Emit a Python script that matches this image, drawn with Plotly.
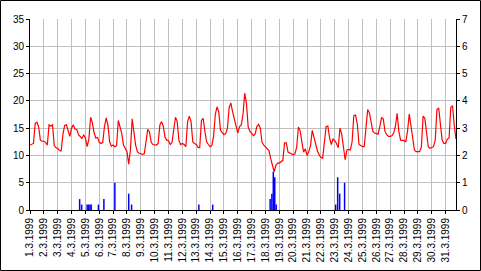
import pandas as pd
import plotly.graph_objects as go

# ---------------- data ----------------
# air temperature (left axis), 3-hourly readings starting 1.3.1999 00:00
temp_c = [
    11.9, 12.0, 12.2, 15.9, 16.1, 15.2, 12.8, 12.6,   # 1.3
    12.6, 12.4, 11.9, 15.6, 15.4, 15.6, 11.8, 11.4,   # 2.3
    11.3, 10.9, 10.8, 13.8, 15.5, 15.6, 14.4, 13.5,   # 3.3
    15.0, 15.6, 14.8, 14.8, 13.8, 13.5, 13.1, 13.8,   # 4.3
    13.2, 11.6, 13.0, 17.0, 16.0, 14.2, 13.2, 13.3,   # 5.3
    12.4, 12.2, 12.4, 15.3, 16.9, 15.5, 12.5, 11.7,   # 6.3
    11.9, 11.6, 11.8, 16.4, 15.3, 14.0, 11.9, 11.3,   # 7.3
    10.7, 8.4, 11.0, 16.7, 13.8, 11.9, 10.7, 10.4,    # 8.3
    10.3, 10.2, 10.3, 12.5, 14.8, 14.3, 12.4, 12.0,   # 9.3
    12.0, 11.9, 12.2, 15.6, 16.2, 15.3, 13.3, 12.8,   # 10.3
    12.7, 12.0, 12.4, 14.4, 17.0, 16.2, 12.7, 12.0,   # 11.3
    12.2, 12.0, 11.6, 16.2, 17.2, 16.2, 12.5, 12.2,   # 12.3
    12.0, 11.5, 11.4, 16.4, 16.8, 14.4, 12.5, 12.0,   # 13.3
    11.6, 11.8, 13.5, 17.5, 18.9, 18.0, 14.6, 14.2,   # 14.3
    13.8, 14.0, 15.0, 18.8, 19.6, 18.0, 16.5, 15.0,   # 15.3
    14.1, 15.3, 15.6, 17.5, 21.4, 19.5, 15.2, 14.4,   # 16.3
    14.1, 13.6, 13.9, 15.3, 15.7, 15.0, 12.4, 11.9,   # 17.3
    11.6, 11.2, 10.9, 9.4, 7.9, 7.0, 8.2, 8.6,        # 18.3
    8.6, 8.8, 9.1, 12.3, 12.3, 10.6, 10.4, 10.2,      # 19.3
    10.1, 10.3, 11.5, 15.2, 14.5, 12.5, 10.6, 11.2,   # 20.3
    10.0, 10.7, 11.8, 14.6, 13.3, 11.6, 10.8, 10.1,   # 21.3
    9.6, 9.5, 12.5, 15.3, 15.4, 13.2, 12.0, 13.0,     # 22.3
    12.7, 12.2, 11.4, 15.0, 13.9, 11.8, 9.2, 11.0,    # 23.3
    11.1, 11.0, 12.5, 17.3, 17.4, 15.8, 12.0, 11.8,   # 24.3
    11.6, 11.6, 14.4, 18.4, 17.8, 15.9, 14.4, 14.1,   # 25.3
    14.0, 13.9, 15.3, 16.9, 16.7, 14.4, 13.8, 13.5,   # 26.3
    13.5, 13.6, 14.1, 15.3, 17.7, 14.4, 12.8, 12.8,   # 27.3
    12.7, 12.5, 14.4, 17.6, 15.5, 12.6, 11.0, 10.7,   # 28.3
    10.7, 10.7, 11.5, 17.2, 16.8, 14.1, 11.6, 11.3,   # 29.3
    11.4, 11.6, 12.8, 18.4, 18.7, 15.9, 12.8, 12.2,   # 30.3
    12.2, 13.0, 13.2, 18.8, 19.1, 15.5, 13.0,         # 31.3
]

# precipitation (right axis)
precip_times = [
    "1999-03-04 14:00", "1999-03-04 17:30",
    "1999-03-05 03:00", "1999-03-05 05:30", "1999-03-05 08:00", "1999-03-05 10:00",
    "1999-03-05 22:30", "1999-03-06 08:00", "1999-03-07 03:00",
    "1999-03-08 03:00", "1999-03-08 08:00",
    "1999-03-13 04:30", "1999-03-14 04:30",
    "1999-03-18 08:00", "1999-03-18 11:00", "1999-03-18 13:30", "1999-03-18 16:00", "1999-03-18 18:30",
    "1999-03-23 01:30", "1999-03-23 05:00", "1999-03-23 08:30", "1999-03-23 17:00",
]
precip_mm = [
    0.4, 0.2,
    0.2, 0.2, 0.2, 0.2,
    0.2, 0.4, 1.0,
    0.6, 0.2,
    0.2, 0.2,
    0.4, 0.6, 1.4, 1.2, 0.2,
    0.2, 1.2, 0.6, 1.0,
]

day_ticks = [f"1999-03-{d:02d}" for d in range(1, 32)]
day_labels = [
    "1.3.1999", "2.3.1999", "3.3.1999", "4.3.1999", "5.3.1999", "6.3.1999",
    "7.3.1999", "8.3.1999", "9.3.1999", "10.3.1999", "11.3.1999", "12.3.1999",
    "13.3.1999", "14.3.1999", "15.3.1999", "16.3.1999", "17.3.1999", "18.3.1999",
    "19.3.1999", "20.3.1999", "21.3.1999", "22.3.1999", "23.3.1999", "24.3.1999",
    "25.3.1999", "26.3.1999", "27.3.1999", "28.3.1999", "29.3.1999", "30.3.1999",
    "31.3.1999",
]
left_ticks = [0, 5, 10, 15, 20, 25, 30, 35]
right_ticks = [0, 1, 2, 3, 4, 5, 6, 7]

# ---------------- figure ----------------
temp_times = pd.date_range("1999-03-01 00:00", periods=len(temp_c), freq="3h")

W, H = 481, 271
ML, MR, MT, MB = 30, 25, 19, 61
PW, PH = W - ML - MR, H - MT - MB

FONT = dict(family="Arial, 'Liberation Sans', sans-serif", size=10, color="black")

fig = go.Figure()
fig.add_trace(go.Bar(
    x=pd.to_datetime(precip_times), y=precip_mm, yaxis="y",
    width=2.6 * 3600 * 1000, marker=dict(color="#0000FF", line=dict(width=0)),
    hoverinfo="skip", showlegend=False,
))
fig.add_trace(go.Scatter(
    x=temp_times, y=temp_c, yaxis="y2", mode="lines",
    line=dict(color="#FF0000", width=1.2), hoverinfo="skip", showlegend=False,
))

fig.update_layout(
    template="none",
    width=W, height=H,
    margin=dict(l=ML, r=MR, t=MT, b=MB, pad=0, autoexpand=False),
    paper_bgcolor="white", plot_bgcolor="white",
    font=FONT, showlegend=False, hovermode=False,
    xaxis=dict(
        type="date", range=["1999-03-01 00:00", "1999-03-31 18:00"],
        tickmode="array", tickvals=day_ticks, ticktext=day_labels,
        tickangle=-90, tickfont=FONT, automargin=False,
        showgrid=True, gridcolor="#C0C0C0", gridwidth=1,
        showline=True, linecolor="black", linewidth=1,
        ticks="outside", ticklen=3, tickcolor="black", tickwidth=1,
        zeroline=False, fixedrange=True,
    ),
    yaxis=dict(
        side="right", range=[0, 7], tickmode="array", tickvals=right_ticks,
        showgrid=False, showline=True, linecolor="black", linewidth=1,
        ticks="outside", ticklen=3, tickcolor="black", tickfont=FONT,
        zeroline=False, fixedrange=True, anchor="x", automargin=False,
    ),
    yaxis2=dict(
        side="left", overlaying="y", range=[0, 35], tickmode="array",
        tickvals=left_ticks, showgrid=True, gridcolor="#C0C0C0", gridwidth=1,
        showline=True, linecolor="black", linewidth=1,
        ticks="outside", ticklen=3, tickcolor="black", tickfont=FONT,
        zeroline=False, fixedrange=True, anchor="x", automargin=False,
    ),
    shapes=[dict(
        type="rect", xref="paper", yref="paper",
        x0=(0.5 - ML) / PW, x1=(480.5 - ML) / PW,
        y0=(H - MB - 270.5) / PH, y1=(H - MB - 0.5) / PH,
        line=dict(color="black", width=1), fillcolor="rgba(0,0,0,0)", layer="above",
    )],
)

fig.write_html("out.html", config=dict(displayModeBar=False, staticPlot=True))
